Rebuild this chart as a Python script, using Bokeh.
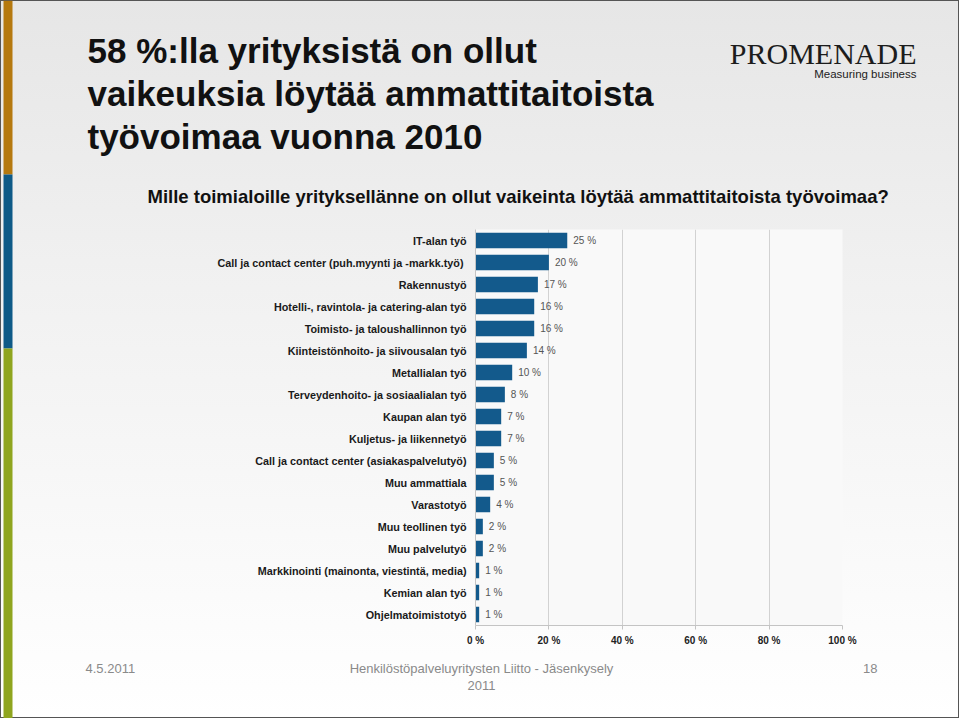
from bokeh.plotting import figure
from bokeh.models import Range1d, FactorRange, FixedTicker, ColumnDataSource
from bokeh.layouts import row, column
from bokeh.core.properties import value
from bokeh.embed import file_html
from bokeh.resources import INLINE

# ---- data ----
categories = [
    "IT-alan työ",
    "Call ja contact center (puh.myynti  ja -markk.työ)",
    "Rakennustyö",
    "Hotelli-, ravintola- ja catering-alan työ",
    "Toimisto- ja taloushallinnon työ",
    "Kiinteistönhoito- ja siivousalan työ",
    "Metallialan työ",
    "Terveydenhoito- ja sosiaalialan työ",
    "Kaupan alan työ",
    "Kuljetus- ja liikennetyö",
    "Call ja contact center (asiakaspalvelutyö)",
    "Muu ammattiala",
    "Varastotyö",
    "Muu teollinen työ",
    "Muu palvelutyö",
    "Markkinointi (mainonta, viestintä, media)",
    "Kemian alan työ",
    "Ohjelmatoimistotyö",
]
values = [25, 20, 17, 16, 16, 14, 10, 8, 7, 7, 5, 5, 4, 2, 2, 1, 1, 1]
x_ticks = [0, 20, 40, 60, 80, 100]
x_tick_labels = ["0 %", "20 %", "40 %", "60 %", "80 %", "100 %"]

title_lines = ["58 %:lla yrityksistä on ollut",
               "vaikeuksia löytää ammattitaitoista",
               "työvoimaa vuonna 2010"]
subtitle = "Mille toimialoille yrityksellänne on ollut vaikeinta löytää ammattitaitoista työvoimaa?"
logo_main = "PROMENADE"
logo_sub = "Measuring business"
footer_date = "4.5.2011"
footer_src = ["Henkilöstöpalveluyritysten Liitto - Jäsenkysely", "2011"]
page_no = "18"
stripe_colors = ["#b5790f", "#0e5a87", "#8fa51f"]
stripe_bounds = [0, 174, 348, 718]

BAR = "#135a8c"
FONT = "Liberation Sans"


def blank(width, height, xr, yr):
    f = figure(width=width, height=height, output_backend="svg", toolbar_location=None,
               x_range=Range1d(*xr), y_range=Range1d(*yr), min_border=0, frame_align=False)
    f.axis.visible = False
    f.grid.visible = False
    f.outline_line_color = None
    f.border_fill_color = None
    f.background_fill_color = None
    return f


# ---- left colour stripe (page pixels) ----
stripe = blank(14, 718, (0, 14), (718, 0))
stripe.quad(left=3, right=12, top=stripe_bounds[:-1], bottom=stripe_bounds[1:],
            color=stripe_colors, line_color=None)

# ---- header (page pixels x 14..959, y 0..229) ----
top = blank(945, 229, (14, 959), (229, 0))
top.text(x=[87] * 3, y=[49.5, 92.5, 135.5], text=title_lines, text_font=value(FONT),
         text_font_style="bold", text_font_size="35px", text_color="#111111",
         text_baseline="alphabetic")
top.text(x=[147], y=[195.5], text=[subtitle], text_font=value(FONT), text_font_style="bold",
         text_font_size="18.5px", text_color="#111111", text_baseline="alphabetic")
top.text(x=[916], y=[53], text=[logo_main], text_font=value("Liberation Serif"),
         text_font_size="30px", text_color="#1c1c1c", text_align="right",
         text_baseline="alphabetic")
top.text(x=[916], y=[73.5], text=[logo_sub], text_font=value(FONT),
         text_font_size="11.5px", text_color="#222222", text_align="right",
         text_baseline="alphabetic")

# ---- chart (page x 14..959, y 229..660; frame 475..842 x 229..625) ----
p = figure(width=945, height=431, output_backend="svg", toolbar_location=None,
           y_range=FactorRange(factors=categories[::-1]), x_range=Range1d(0, 100),
           min_border_left=461, min_border_right=117, min_border_top=0, min_border_bottom=35,
           frame_align=False)
p.border_fill_color = None
p.background_fill_color = "#f9f9f9"
p.outline_line_color = None

src = ColumnDataSource(dict(cat=categories, val=values, lbl=[f"{v} %" for v in values]))
p.hbar(y="cat", right="val", left=0, height=0.7, source=src, color=BAR, line_color=None)
p.text(x="val", y="cat", text="lbl", source=src, x_offset=6, text_baseline="middle",
       text_font_size="10px", text_color="#555555", text_font=value(FONT))

xa = p.xaxis[0]
xa.ticker = FixedTicker(ticks=x_ticks)
xa.major_label_overrides = dict(zip(x_ticks, x_tick_labels))
xa.major_label_text_font = FONT
xa.major_label_text_font_style = "bold"
xa.major_label_text_font_size = "10px"
xa.major_label_text_color = "#222222"
xa.axis_line_color = "#c4c4c4"
xa.major_tick_line_color = "#c4c4c4"
xa.major_tick_out = 4
xa.major_tick_in = 0
xa.minor_tick_line_color = None
xa.major_label_standoff = 5

ya = p.yaxis[0]
ya.major_label_text_font = FONT
ya.major_label_text_font_style = "bold"
ya.major_label_text_font_size = "10.8px"
ya.major_label_text_color = "#1a1a1a"
ya.axis_line_color = "#c4c4c4"
ya.major_tick_line_color = None
ya.major_tick_out = 0
ya.major_tick_in = 0
ya.minor_tick_line_color = None
ya.major_label_standoff = 9

p.xgrid.grid_line_color = "#d2d2d2"
p.ygrid.grid_line_color = None

# ---- footer (page x 14..959, y 660..718) ----
bot = blank(945, 58, (14, 959), (718, 660))
bot.text(x=[85], y=[667.5], text=[footer_date], text_font=value(FONT), text_font_size="13px",
         text_color="#8a8a8a", text_baseline="alphabetic")
bot.text(x=[481, 481], y=[667.5, 684.5], text=footer_src, text_font=value(FONT),
         text_font_size="13px", text_color="#8a8a8a", text_align="center",
         text_baseline="alphabetic")
bot.text(x=[877], y=[667.5], text=[page_no], text_font=value(FONT), text_font_size="13px",
         text_color="#8a8a8a", text_align="right", text_baseline="alphabetic")

layout = row(stripe, column(top, p, bot, spacing=0), spacing=0,
             styles={"background": "linear-gradient(to bottom, #e6e6e6 0%, #f1f1f1 40%, #ffffff 100%)",
                     "box-shadow": "inset 0 0 0 1px #555555"})

open("out.html", "w").write(file_html(layout, INLINE))
